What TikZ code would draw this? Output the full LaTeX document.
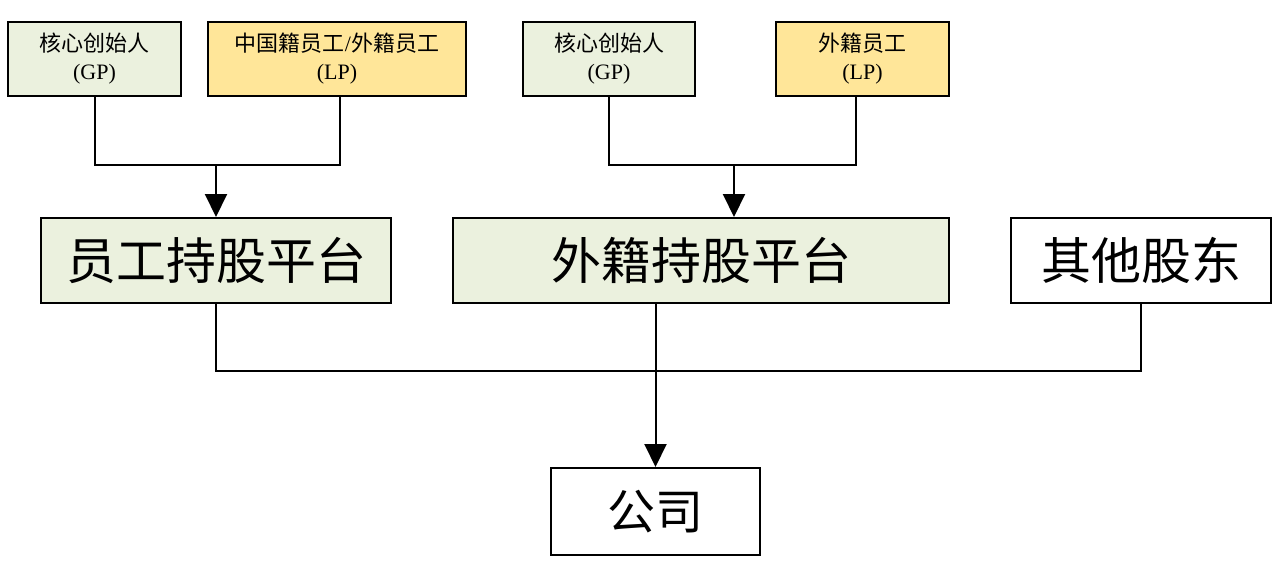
\documentclass[tikz,border=0pt]{standalone}
\usepackage{fontspec}
\setmainfont{Liberation Serif}
\newfontfamily\cjk{Noto Sans CJK SC}
\usetikzlibrary{arrows.meta}
\definecolor{gpgreen}{HTML}{EBF1DE}
\definecolor{lpyellow}{HTML}{FFE699}
\tikzset{
  box/.style={draw=black, line width=2pt, inner sep=0pt, align=center},
  topbox/.style={box, minimum height=74pt, font=\fontsize{22}{28}\selectfont},
  midbox/.style={box, minimum height=85pt, font=\fontsize{50}{56}\selectfont\cjk},
  conn/.style={line width=2pt},
  arr/.style={line width=2pt, -{Triangle[width=22pt,length=23pt]}}
}
\begin{document}
\begin{tikzpicture}[x=1pt,y=-1pt]
\useasboundingbox (0,0) rectangle (1280,563);
% top row
\node[topbox, fill=gpgreen, minimum width=173pt] (b1) at (94.5,59) {{\cjk 核心创始人}\\(GP)};
\node[topbox, fill=lpyellow, minimum width=258pt] (b2) at (337,59) {{\cjk 中国籍员工}/{\cjk 外籍员工}\\(LP)};
\node[topbox, fill=gpgreen, minimum width=172pt] (b3) at (609,59) {{\cjk 核心创始人}\\(GP)};
\node[topbox, fill=lpyellow, minimum width=173pt] (b4) at (862.5,59) {{\cjk 外籍员工}\\(LP)};
% middle row
\node[midbox, fill=gpgreen, minimum width=350pt] (b5) at (216,260.5) {员工持股平台};
\node[midbox, fill=gpgreen, minimum width=496pt] (b6) at (701,260.5) {外籍持股平台};
\node[midbox, fill=white, minimum width=260pt] (b7) at (1141,260.5) {其他股东};
% bottom
\node[box, fill=white, minimum width=209pt, minimum height=87pt, font=\fontsize{48}{54}\selectfont\cjk] (b8) at (655.5,511.5) {公司};
% junction coordinates
\coordinate (j1) at (216,165);
\coordinate (j2) at (734,165);
\coordinate (j3) at (656,371);
% connectors left group
\draw[conn] (b1.south) |- (j1) -| ([xshift=3pt]b2.south);
\draw[arr] (j1) -- (b5.north);
% connectors right group
\draw[conn] (b3.south) |- (j2) -| ([xshift=-7pt]b4.south);
\draw[arr] (j2) -- (j2 |- b6.north);
% bottom group
\draw[conn] (b5.south) |- (j3) -| (b7.south);
\draw[arr] (b8.north |- b6.south) -- (b8.north);
\end{tikzpicture}
\end{document}
